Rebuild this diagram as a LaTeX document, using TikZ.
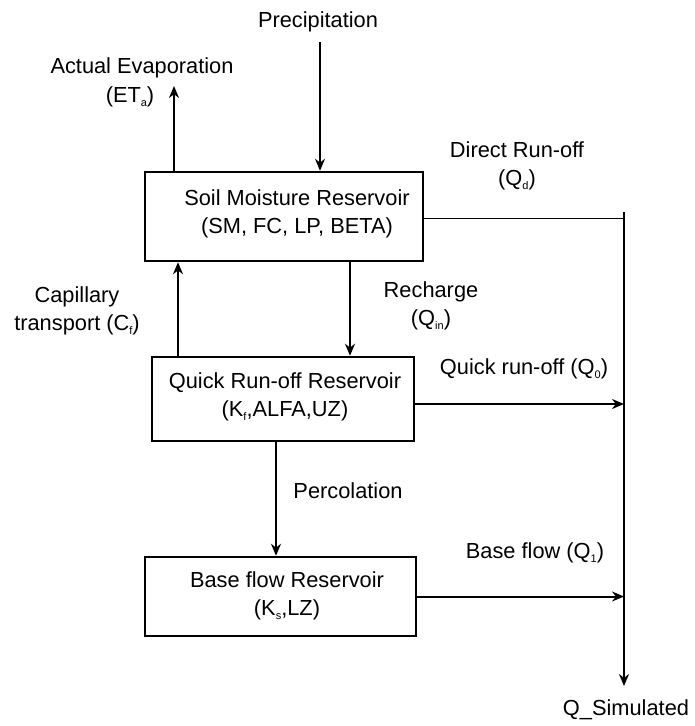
\documentclass[tikz,border=0pt]{standalone}
\usepackage{fontspec}
\setmainfont{Liberation Sans}
\usetikzlibrary{arrows.meta}
\newcommand{\lowsub}[1]{\raisebox{-4pt}{\fontsize{11}{11}\selectfont #1}}
\begin{document}
\begin{tikzpicture}[x=1pt,y=-1pt,
  txt/.style={font=\fontsize{21.8}{28}\selectfont, inner sep=0pt, align=center},
  box/.style={draw, line width=2.5pt, inner sep=0pt},
  arr/.style={line width=2pt, -{Stealth[length=12pt,width=10pt]}},
  ln/.style={line width=2pt}]
\fill[white] (0,0) rectangle (694,726);
\useasboundingbox (0,0) rectangle (694,726);

% boxes
\node[box, minimum width=278pt, minimum height=89pt] (soil) at (284,216.5) {};
\node[box, minimum width=262pt, minimum height=84pt] (quick) at (283,399) {};
\node[box, minimum width=271pt, minimum height=79pt] (base) at (280.5,596.5) {};

% box texts
\node[txt] (soiltxt) at (297,214) {Soil Moisture Reservoir\\(SM, FC, LP, BETA)};
\node[txt] (quicktxt) at (285,397) {Quick Run-off Reservoir\\(K\lowsub{f},ALFA,UZ)};
\node[txt] (basetxt) at (287,596) {Base flow Reservoir\\(K\lowsub{s},LZ)};

% labels
\node[txt] (prec) at (318,22) {Precipitation};
\node[txt] (et) at (142,68) {Actual Evaporation};
\node[txt] (eta) at (130,97) {(ET\lowsub{a})};
\node[txt] (direct) at (517,166) {Direct Run-off\\(Q\lowsub{d})};
\node[txt] (cap) at (77,311) {Capillary\\transport (C\lowsub{f})};
\node[txt] (rech) at (431,306) {Recharge\\(Q\lowsub{in})};
\node[txt] (qro) at (524,369) {Quick run-off (Q\lowsub{0})};
\node[txt] (perc) at (348,491) {Percolation};
\node[txt] (bf) at (535,553) {Base flow (Q\lowsub{1})};
\node[txt] (qsim) at (626,710) {Q\_Simulated};

% coordinates
\coordinate (pstart) at (320,42);
\coordinate (etend) at (174,86);
\coordinate (rx) at (350,0);
\coordinate (cx) at (178,0);
\coordinate (px) at (276,0);
\coordinate (rtop) at (624,212);
\coordinate (rbot) at (624,686);

% connectors
\draw[arr] (pstart) -- (pstart |- soil.north);
\draw[arr] (etend |- soil.north) -- (etend);
\draw[arr] (rx |- soil.south) -- (rx |- quick.north);
\draw[arr] (cx |- quick.north) -- (cx |- soil.south);
\draw[arr] (px |- quick.south) -- (px |- base.north);
\draw[arr] (rtop) -- (rbot);
\draw[line width=1.5pt] ([yshift=-2pt]soil.east) -- ([yshift=-2pt]soil.east -| rtop);
\draw[arr] ([yshift=-5pt]quick.east) -- ([yshift=-5pt]quick.east -| rtop);
\draw[arr] (base.east) -- (base.east -| rtop);
\end{tikzpicture}
\end{document}
